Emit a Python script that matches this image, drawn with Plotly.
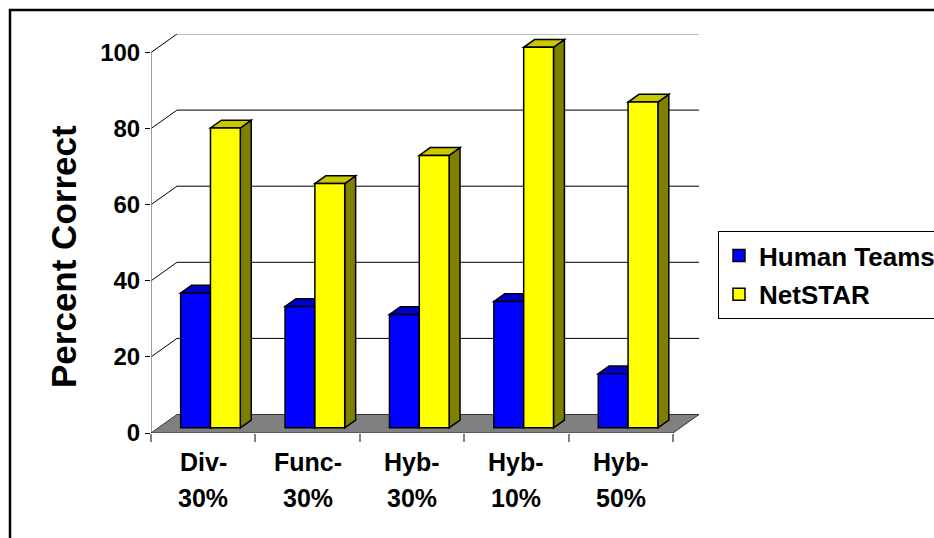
import plotly.graph_objects as go

# ---------------- data ----------------
categories = ["Div-30%", "Func-30%", "Hyb-30%", "Hyb-10%", "Hyb-50%"]
label_line1 = ["Div-", "Func-", "Hyb-", "Hyb-", "Hyb-"]
label_line2 = ["30%", "30%", "30%", "10%", "50%"]
human_teams = [35.4, 31.9, 29.8, 33.2, 14.2]
netstar = [78.8, 64.2, 71.6, 100.0, 85.6]
y_ticks = [0, 20, 40, 60, 80, 100]
series_names = ["Human Teams", "NetSTAR"]

# ---------------- styling / geometry ----------------
W, H = 934, 538
PX_L, PX_R, PX_T, PX_B = 151, 699, 34, 433   # plot-area pixel box
N = len(categories)
PX_PER_CAT = 104.4
DX = (PX_R - PX_L) / PX_PER_CAT - N          # depth offset in category units
YMAX = 100
PX_PER_VAL = 3.805
DY = (PX_B - PX_T) / PX_PER_VAL - YMAX       # depth offset in value units
F0, F1 = 0.28, 0.70                          # bar front/back depth fractions
BW = 1 / 3.5                                 # bar width (gap width 150 %)

FONT = "Liberation Sans, Arial, sans-serif"
front_cols = ["#0000FF", "#FFFF00"]
top_cols = ["#0000C8", "#C8C800"]
side_cols = ["#000080", "#808000"]


def px_to_paper_x(px):
    return (px - PX_L) / (PX_R - PX_L)


def px_to_paper_y(py):
    return (PX_B - py) / (PX_B - PX_T)


def poly(pts):
    return "M " + " L ".join(f"{x},{y}" for x, y in pts) + " Z"


shapes = []
# back wall gridlines
for v in y_ticks:
    if v == 0:
        continue
    shapes.append(dict(type="line", xref="x", yref="y", layer="below",
                       x0=DX, y0=v + DY, x1=N + DX, y1=v + DY,
                       line=dict(color="#808080" if v == YMAX else "black", width=1)))
    shapes.append(dict(type="line", xref="x", yref="y", layer="below",
                       x0=0, y0=v, x1=DX, y1=v + DY,
                       line=dict(color="black", width=1)))
# front vertical axis line
shapes.append(dict(type="line", xref="x", yref="y", layer="below",
                   x0=0, y0=0, x1=0, y1=YMAX,
                   line=dict(color="#808080", width=1.5)))
# floor
shapes.append(dict(type="path", xref="x", yref="y", layer="below",
                   path=poly([(0, 0), (N, 0), (N + DX, DY), (DX, DY)]),
                   fillcolor="#808080", line=dict(color="#333333", width=1)))

# 3D faces (top and side) of each bar, computed from the data
bdx = (F1 - F0) * DX
bdy = (F1 - F0) * DY
base = F0 * DY
for i in range(N):
    c = i + 0.5 + F0 * DX
    for s, vals in enumerate([human_teams, netstar]):
        xl = c - BW + s * BW
        xr = xl + BW
        top = base + vals[i]
        shapes.append(dict(type="path", xref="x", yref="y", layer="below",
                           path=poly([(xr, base), (xr + bdx, base + bdy),
                                      (xr + bdx, top + bdy), (xr, top)]),
                           fillcolor=side_cols[s], line=dict(color="black", width=1.5)))
        shapes.append(dict(type="path", xref="x", yref="y", layer="below",
                           path=poly([(xl, top), (xr, top),
                                      (xr + bdx, top + bdy), (xl + bdx, top + bdy)]),
                           fillcolor=top_cols[s], line=dict(color="black", width=1.5)))

# outer chart frame (left and top edges)
fx = px_to_paper_x(10)
fy = px_to_paper_y(10)
shapes.append(dict(type="path", xref="paper", yref="paper", layer="above",
                   path=f"M {fx},{px_to_paper_y(560)} L {fx},{fy} L {px_to_paper_x(960)},{fy}",
                   line=dict(color="black", width=2.5)))

fig = go.Figure()
centers = [i + 0.5 + F0 * DX for i in range(N)]
for s, vals in enumerate([human_teams, netstar]):
    fig.add_trace(go.Bar(
        x=centers, y=vals, base=base, width=BW, offset=-BW + s * BW,
        name=series_names[s], legendgroup=series_names[s],
        marker=dict(color=front_cols[s], line=dict(color="black", width=1.5)),
        hoverinfo="skip",
    ))

annotations = []
for i in range(N):
    annotations.append(dict(x=i + 0.5, y=0, xref="x", yref="y", text=label_line1[i],
                            showarrow=False, yanchor="middle", yshift=-29,
                            font=dict(family=FONT, size=25, color="black", weight="bold")))
    annotations.append(dict(x=i + 0.5, y=0, xref="x", yref="y", text=label_line2[i],
                            showarrow=False, yanchor="middle", yshift=-65,
                            font=dict(family=FONT, size=25, color="black", weight="bold")))
annotations.append(dict(x=px_to_paper_x(63), y=px_to_paper_y(257), xref="paper", yref="paper",
                        text="Percent Correct", textangle=-90, showarrow=False,
                        xanchor="center", yanchor="middle",
                        font=dict(family=FONT, size=35, color="black", weight="bold")))

fig.update_layout(
    width=W, height=H,
    margin=dict(l=PX_L, r=W - PX_R, t=PX_T, b=H - PX_B, autoexpand=False),
    paper_bgcolor="white", plot_bgcolor="rgba(0,0,0,0)",
    barmode="overlay",
    showlegend=True,
    legend=dict(xref="container", yref="container", x=718 / W, y=1 - 231 / H,
                xanchor="left", yanchor="top", bgcolor="white",
                bordercolor="black", borderwidth=1, tracegroupgap=2,
                font=dict(family=FONT, size=26, color="black", weight="bold"),
                itemclick=False, itemdoubleclick=False),
    xaxis=dict(range=[0, N + DX], tickvals=list(range(N + 1)), showticklabels=False,
               ticks="outside", ticklen=8, tickcolor="#808080", tickwidth=1.5,
               showgrid=False, zeroline=False, showline=False, fixedrange=True),
    yaxis=dict(range=[0, YMAX + DY], tickvals=y_ticks, ticks="outside", ticklen=5,
               tickcolor="black", tickwidth=1, showgrid=False, zeroline=False,
               showline=False, fixedrange=True,
               tickfont=dict(family=FONT, size=24, color="black", weight="bold")),
    shapes=shapes, annotations=annotations,
)

fig.write_html("out.html")
